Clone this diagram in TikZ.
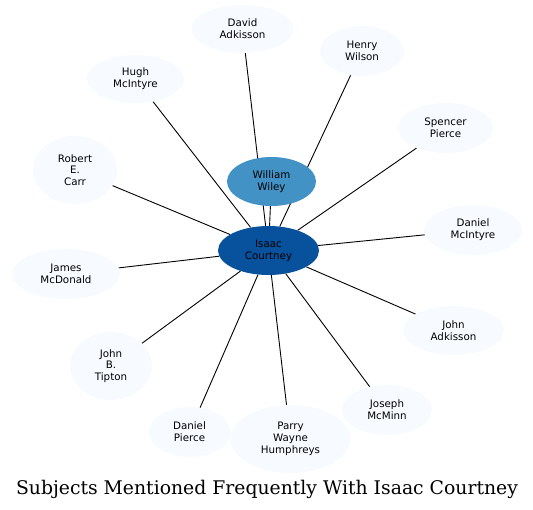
\documentclass[tikz,border=0pt]{standalone}
\usepackage{fontspec}
\setsansfont{DejaVu Sans}
\newfontfamily\titlefont{DejaVu Serif}
\usetikzlibrary{shapes.geometric,backgrounds}
\definecolor{hubblue}{HTML}{08519C}
\definecolor{midblue}{HTML}{4292C6}
\definecolor{paleblue}{HTML}{F7FBFF}
\tikzset{
  person/.style={ellipse,fill=paleblue,inner sep=0pt,align=center,
    font=\sffamily\fontsize{10.3}{11.8}\selectfont,text=black},
  edge/.style={draw=black,line width=0.9pt},
}
\begin{document}
\begin{tikzpicture}[x=1pt,y=-1pt]
\useasboundingbox (0,0) rectangle (533,509);
\node[person,fill=hubblue,minimum width=101,minimum height=49] (isaac) at (268.5,250.5) {Isaac\\Courtney};
\node[person,fill=midblue,minimum width=89,minimum height=49] (william) at (271.5,181.5) {William\\Wiley};
\node[person,minimum width=102,minimum height=48] (david) at (242.5,29) {David\\Adkisson};
\node[person,minimum width=84,minimum height=50] (henry) at (362,51) {Henry\\Wilson};
\node[person,minimum width=97,minimum height=48] (hugh) at (135.5,79) {Hugh\\McIntyre};
\node[person,minimum width=95,minimum height=50] (spencer) at (445.5,128) {Spencer\\Pierce};
\node[person,minimum width=84,minimum height=68] (robert) at (75,170) {Robert\\E.\\Carr};
\node[person,minimum width=98,minimum height=50] (danielm) at (473,230) {Daniel\\McIntyre};
\node[person,minimum width=108,minimum height=50] (james) at (66,274) {James\\McDonald};
\node[person,minimum width=101,minimum height=49] (johna) at (453.5,330.5) {John\\Adkisson};
\node[person,minimum width=82,minimum height=68] (johnb) at (111,366) {John\\B.\\Tipton};
\node[person,minimum width=90,minimum height=50] (joseph) at (387,410) {Joseph\\McMinn};
\node[person,minimum width=82,minimum height=50] (danielp) at (189.5,432) {Daniel\\Pierce};
\node[person,minimum width=120,minimum height=68] (parry) at (290.5,439) {Parry\\Wayne\\Humphreys};
\node[font=\titlefont\fontsize{18.8}{22}\selectfont,text=black,anchor=base] (title) at (267,494) {Subjects Mentioned Frequently With Isaac Courtney};
\begin{pgfonlayer}{background}
\foreach \n in {william,david,henry,hugh,spencer,robert,danielm,james,johna,johnb,joseph,danielp,parry}
  \draw[edge] (isaac) -- (\n);
\end{pgfonlayer}
\end{tikzpicture}
\end{document}
